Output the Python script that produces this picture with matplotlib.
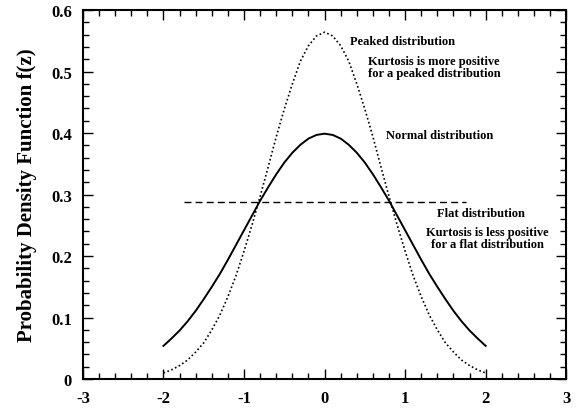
import numpy as np
import matplotlib
matplotlib.use('Agg')
import matplotlib.pyplot as plt
from matplotlib.ticker import MultipleLocator

plt.rcParams['font.family'] = ['Liberation Serif', 'DejaVu Serif']
plt.rcParams['font.weight'] = 'bold'

# values
z = [-2.0, -1.9, -1.8, -1.7, -1.6, -1.5, -1.4, -1.3, -1.2, -1.1, -1.0,
     -0.9, -0.8, -0.7, -0.6, -0.5, -0.4, -0.3, -0.2, -0.1, 0.0,
     0.1, 0.2, 0.3, 0.4, 0.5, 0.6, 0.7, 0.8, 0.9, 1.0,
     1.1, 1.2, 1.3, 1.4, 1.5, 1.6, 1.7, 1.8, 1.9, 2.0]
normal = [0.054, 0.066, 0.079, 0.094, 0.111, 0.130, 0.150, 0.171, 0.194, 0.218, 0.242,
          0.266, 0.290, 0.312, 0.333, 0.352, 0.368, 0.381, 0.391, 0.397, 0.399,
          0.397, 0.391, 0.381, 0.368, 0.352, 0.333, 0.312, 0.290, 0.266, 0.242,
          0.218, 0.194, 0.171, 0.150, 0.130, 0.111, 0.094, 0.079, 0.066, 0.054]
peaked = [0.010, 0.015, 0.022, 0.031, 0.044, 0.059, 0.080, 0.104, 0.134, 0.168, 0.208,
          0.251, 0.297, 0.345, 0.394, 0.439, 0.480, 0.517, 0.542, 0.558, 0.564,
          0.558, 0.542, 0.517, 0.480, 0.439, 0.394, 0.345, 0.297, 0.251, 0.208,
          0.168, 0.134, 0.104, 0.080, 0.059, 0.044, 0.031, 0.022, 0.015, 0.010]
flat_z = [-1.75, 1.75]
flat = [0.288, 0.288]

xticks = [-3, -2, -1, 0, 1, 2, 3]
xlabels = ['-3', '-2', '-1', '0', '1', '2', '3']
yticks = [0, 0.1, 0.2, 0.3, 0.4, 0.5, 0.6]
ylabels = ['0', '0.1', '0.2', '0.3', '0.4', '0.5', '0.6']

fig = plt.figure(figsize=(5.76, 4.10), dpi=100)
ax = fig.add_axes([0.144, 0.073, 0.839, 0.900])

ax.plot(z, normal, color='black', lw=1.4)
ax.plot(z, peaked, color='black', lw=1.2, linestyle=(0, (1, 1.5)))
ax.plot(flat_z, flat, color='black', lw=1.0, linestyle=(0, (5, 3)))

ax.set_xlim(-3, 3)
ax.set_ylim(0, 0.6)
ax.set_xticks(xticks)
ax.set_xticklabels(xlabels)
ax.set_yticks(yticks)
ax.set_yticklabels(ylabels)
ax.xaxis.set_minor_locator(MultipleLocator(0.2))
ax.yaxis.set_minor_locator(MultipleLocator(0.02))
ax.tick_params(which='both', direction='in', top=True, right=True, width=1.0)
ax.tick_params(which='major', length=7, labelsize=12, pad=8)
ax.tick_params(which='minor', length=4)
for s in ax.spines.values():
    s.set_linewidth(1.5)

ax.set_ylabel('Probability Density Function f(z)', fontsize=15, fontweight='bold', labelpad=10)

ax.text(0.32, 0.55, 'Peaked distribution', fontsize=9, fontweight='bold', va='center')
ax.text(1.36, 0.508, 'Kurtosis is more positive\nfor a peaked distribution',
        fontsize=9, fontweight='bold', va='center', ha='center', linespacing=1.0)
ax.text(0.76, 0.397, 'Normal distribution', fontsize=9, fontweight='bold', va='center')
ax.text(1.40, 0.27, 'Flat distribution', fontsize=9, fontweight='bold', va='center')
ax.text(2.02, 0.229, 'Kurtosis is less positive\nfor a flat distribution',
        fontsize=9, fontweight='bold', va='center', ha='center', linespacing=1.0)

fig.savefig('out.png', dpi=100)
